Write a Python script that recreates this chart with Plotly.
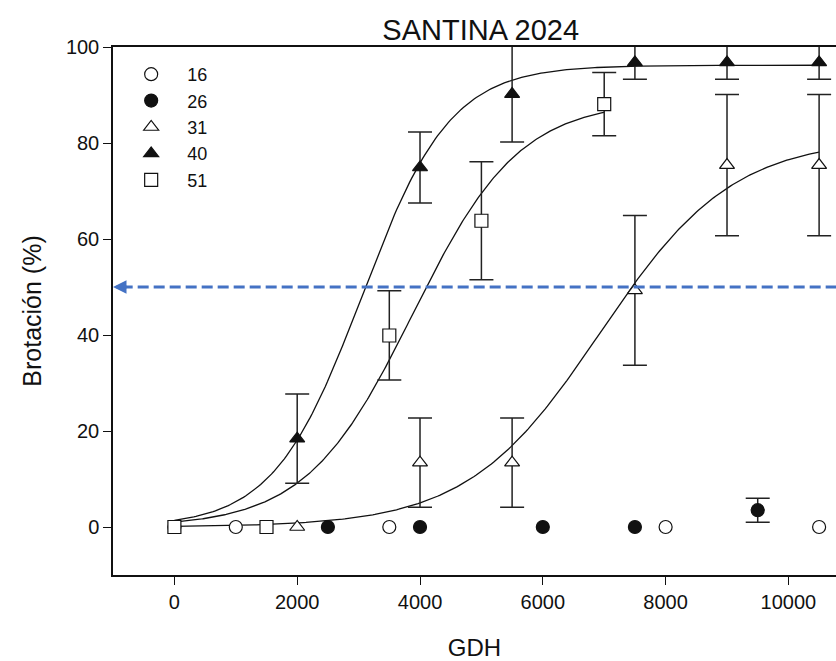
import numpy as np
import plotly.graph_objects as go

# Bud-break (%) vs. growing degree hours for five chill treatments
series_names = ["16", "26", "31", "40", "51"]

x_16 = [0, 1000, 3500, 8000, 10500]
y_16 = [0, 0, 0, 0, 0]
e_16 = [None, None, None, None, None]

x_26 = [2500, 4000, 6000, 7500, 9500]
y_26 = [0, 0, 0, 0, 3.5]
e_26 = [None, None, None, None, 2.5]

x_31 = [2000, 4000, 5500, 7500, 9000, 10500]
y_31 = [0, 13.4, 13.4, 49.3, 75.4, 75.4]
e_31 = [None, 9.3, 9.3, 15.6, 14.7, 14.7]

x_40 = [2000, 4000, 5500, 7500, 9000, 10500]
y_40 = [18.4, 74.9, 90.2, 96.8, 96.8, 96.8]
e_40 = [9.3, 7.4, 10.0, 3.5, 3.5, 3.5]

x_51 = [0, 1500, 3500, 5000, 7000]
y_51 = [0, 0, 39.9, 63.8, 88.1]
e_51 = [None, None, 9.3, 12.3, 6.6]

# Three-parameter sigmoid fits: y = a / (1 + exp(-(x - x0) / b))
fit_31 = dict(a=81.0, b=1080.0, x0=6935.0, xmax=10500)
fit_40 = dict(a=96.2, b=720.0, x0=3053.0, xmax=10500)
fit_51 = dict(a=88.8, b=870.0, x0=3883.0, xmax=7000)

threshold = 50  # 50 % bud-break reference level

x_ticks = [0, 2000, 4000, 6000, 8000, 10000]
x_tick_labels = ["0", "2000", "4000", "6000", "8000", "10000"]
y_ticks = [0, 20, 40, 60, 80, 100]
y_tick_labels = ["0", "20", "40", "60", "80", "100"]

FONT = "Arial, Liberation Sans, sans-serif"
INK = "#111111"


def sigmoid(fit):
    xs = np.linspace(0, fit["xmax"], 300)
    return xs, fit["a"] / (1 + np.exp(-(xs - fit["x0"]) / fit["b"]))


fig = go.Figure()

# fitted curves (drawn beneath the markers)
for fit in (fit_31, fit_40, fit_51):
    xs, ys = sigmoid(fit)
    fig.add_trace(go.Scatter(x=xs, y=ys, mode="lines", showlegend=False,
                             hoverinfo="skip",
                             line=dict(color=INK, width=1.3)))

styles = {
    "16": dict(symbol="circle", color="white"),
    "26": dict(symbol="circle", color=INK),
    "31": dict(symbol="triangle-up", color="white"),
    "40": dict(symbol="triangle-up", color=INK),
    "51": dict(symbol="square", color="white"),
}
data = {
    "16": (x_16, y_16, e_16),
    "26": (x_26, y_26, e_26),
    "31": (x_31, y_31, e_31),
    "40": (x_40, y_40, e_40),
    "51": (x_51, y_51, e_51),
}

# error bars only for the means that carry a standard error
for name in series_names:
    xs, ys, es = data[name]
    keep = [i for i, e in enumerate(es) if e is not None]
    if not keep:
        continue
    fig.add_trace(go.Scatter(
        x=[xs[i] for i in keep], y=[ys[i] for i in keep], mode="markers",
        showlegend=False, hoverinfo="skip",
        marker=dict(size=1, opacity=0),
        error_y=dict(type="data", array=[es[i] for i in keep], visible=True,
                     color="#222222", thickness=1.5, width=12),
    ))

for name in series_names:
    xs, ys, es = data[name]
    st = styles[name]
    fig.add_trace(go.Scatter(
        x=xs, y=ys, mode="markers", name=name,
        marker=dict(symbol=st["symbol"], size=13, color=st["color"],
                    line=dict(color=INK, width=1.2)),
    ))

# dashed 50 % reference line with a left-pointing arrowhead
fig.add_shape(type="line", xref="paper", yref="y", x0=0.012, x1=1,
              y0=threshold, y1=threshold,
              line=dict(color="#4472C4", width=3.2, dash="11px,5px"))
fig.add_annotation(x=-1000, y=threshold, xref="x", yref="y", ax=15, ay=0,
                   text="", showarrow=True, arrowhead=2, arrowsize=0.9,
                   arrowwidth=3, arrowcolor="#4472C4", standoff=0)

fig.update_layout(
    width=836, height=661,
    margin=dict(l=113, r=0, t=47, b=86),
    paper_bgcolor="white", plot_bgcolor="white",
    font=dict(family=FONT, color=INK),
    title=dict(text="SANTINA 2024", x=0.575, xanchor="center",
               y=1 - 30 / 661, yanchor="middle", font=dict(size=29, color=INK)),
    legend=dict(x=0.003, y=0.983, xanchor="left", yanchor="top",
                bgcolor="rgba(0,0,0,0)", font=dict(size=18, color=INK),
                itemwidth=62, traceorder="normal"),
    showlegend=True,
)

fig.update_xaxes(range=[-1000, 10775], tickvals=x_ticks, ticktext=x_tick_labels,
                 showgrid=False, zeroline=False,
                 showline=True, linecolor=INK, linewidth=1.5, mirror=True,
                 ticks="outside", ticklen=8, tickwidth=1.2, tickcolor=INK,
                 tickfont=dict(size=20, color=INK),
                 title=dict(text="GDH", font=dict(size=24, color=INK), standoff=30))
fig.update_yaxes(range=[-10, 100], tickvals=y_ticks, ticktext=y_tick_labels,
                 showgrid=False, zeroline=False,
                 showline=True, linecolor=INK, linewidth=1.5, mirror=False,
                 ticks="outside", ticklen=8, tickwidth=1.2, tickcolor=INK,
                 tickfont=dict(size=20, color=INK),
                 title=dict(text="Brotación (%)", font=dict(size=25, color=INK), standoff=17))

fig.write_html("out.html")
